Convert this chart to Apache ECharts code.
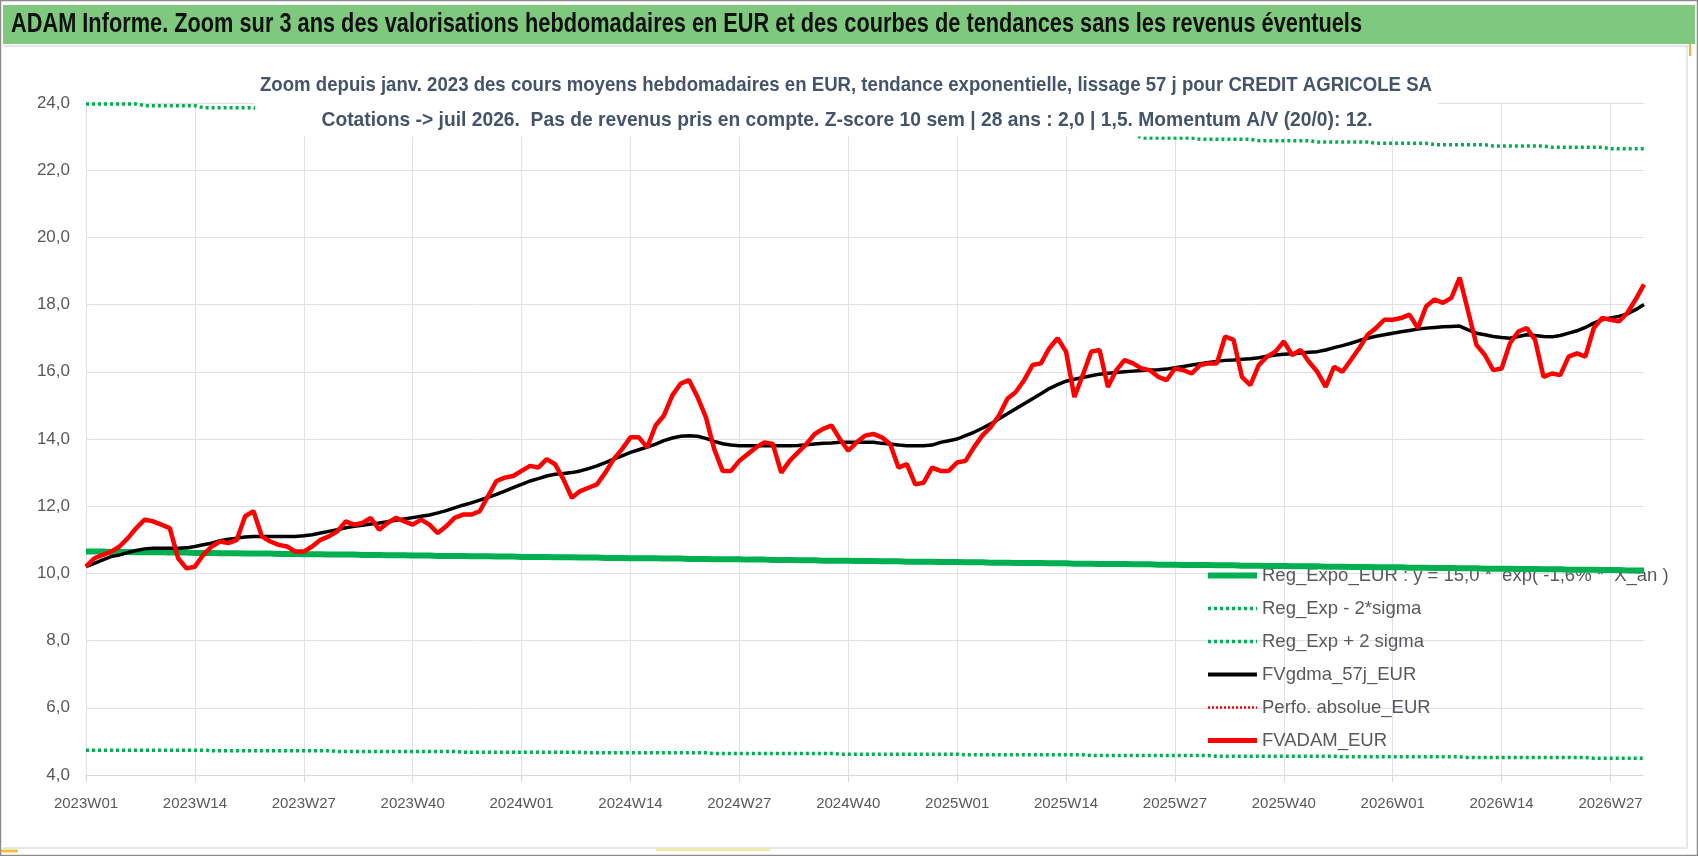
<!DOCTYPE html>
<html><head><meta charset="utf-8">
<script src="https://cdn.jsdelivr.net/npm/echarts@6/dist/echarts.min.js"></script>
<style>html,body{margin:0;padding:0;background:#fff}#c{width:1698px;height:856px}</style>
</head><body><div id="c"></div>
<script>
// ---- data ----
const weekSpec = [[2023,52],[2024,52],[2025,52],[2026,31]];
const categories = [];
weekSpec.forEach(([y,n])=>{for(let w=1;w<=n;w++)categories.push(y+'W'+(w<10?'0'+w:w));});

const regExpo = [
10.65,10.65,10.65,10.64,10.64,10.64,10.63,10.63,10.63,10.63,
10.62,10.62,10.62,10.61,10.61,10.61,10.60,10.60,10.60,10.59,
10.59,10.59,10.59,10.58,10.58,10.58,10.57,10.57,10.57,10.56,
10.56,10.56,10.56,10.55,10.55,10.55,10.54,10.54,10.54,10.53,
10.53,10.53,10.52,10.52,10.52,10.52,10.51,10.51,10.51,10.50,
10.50,10.50,10.49,10.49,10.49,10.49,10.48,10.48,10.48,10.47,
10.47,10.47,10.46,10.46,10.46,10.45,10.45,10.45,10.45,10.44,
10.44,10.44,10.43,10.43,10.43,10.42,10.42,10.42,10.42,10.41,
10.41,10.41,10.40,10.40,10.40,10.39,10.39,10.39,10.38,10.38,
10.38,10.38,10.37,10.37,10.37,10.36,10.36,10.36,10.35,10.35,
10.35,10.35,10.34,10.34,10.34,10.33,10.33,10.33,10.32,10.32,
10.32,10.31,10.31,10.31,10.31,10.30,10.30,10.30,10.29,10.29,
10.29,10.28,10.28,10.28,10.28,10.27,10.27,10.27,10.26,10.26,
10.26,10.25,10.25,10.25,10.25,10.24,10.24,10.24,10.23,10.23,
10.23,10.22,10.22,10.22,10.21,10.21,10.21,10.21,10.20,10.20,
10.20,10.19,10.19,10.19,10.18,10.18,10.18,10.18,10.17,10.17,
10.17,10.16,10.16,10.16,10.15,10.15,10.15,10.14,10.14,10.14,
10.14,10.13,10.13,10.13,10.12,10.12,10.12,10.11,10.11,10.11,
10.11,10.10,10.10,10.10,10.09,10.09,10.09];

const regMinus2Sigma = [
4.74,4.74,4.74,4.74,4.74,4.74,4.74,4.74,4.74,4.74,
4.74,4.74,4.74,4.74,4.74,4.72,4.72,4.72,4.72,4.72,
4.72,4.72,4.72,4.72,4.72,4.72,4.72,4.72,4.72,4.72,
4.70,4.70,4.70,4.70,4.70,4.70,4.70,4.70,4.70,4.70,
4.70,4.70,4.70,4.70,4.70,4.68,4.68,4.68,4.68,4.68,
4.68,4.68,4.68,4.68,4.68,4.68,4.68,4.68,4.68,4.68,
4.66,4.66,4.66,4.66,4.66,4.66,4.66,4.66,4.66,4.66,
4.66,4.66,4.66,4.66,4.66,4.64,4.64,4.64,4.64,4.64,
4.64,4.64,4.64,4.64,4.64,4.64,4.64,4.64,4.64,4.64,
4.62,4.62,4.62,4.62,4.62,4.62,4.62,4.62,4.62,4.62,
4.62,4.62,4.62,4.62,4.62,4.60,4.60,4.60,4.60,4.60,
4.60,4.60,4.60,4.60,4.60,4.60,4.60,4.60,4.60,4.60,
4.58,4.58,4.58,4.58,4.58,4.58,4.58,4.58,4.58,4.58,
4.58,4.58,4.58,4.58,4.58,4.56,4.56,4.56,4.56,4.56,
4.56,4.56,4.56,4.56,4.56,4.56,4.56,4.56,4.56,4.56,
4.54,4.54,4.54,4.54,4.54,4.54,4.54,4.54,4.54,4.54,
4.54,4.54,4.54,4.54,4.54,4.52,4.52,4.52,4.52,4.52,
4.52,4.52,4.52,4.52,4.52,4.52,4.52,4.52,4.52,4.52,
4.50,4.50,4.50,4.50,4.50,4.50,4.50];

const regPlus2Sigma = [
23.97,23.97,23.97,23.97,23.97,23.97,23.97,
23.92,23.92,23.92,23.92,23.92,23.92,23.92,
23.86,23.86,23.86,23.86,23.86,23.86,23.86,
23.80,23.80,23.80,23.80,23.80,23.80,23.80,
23.75,23.75,23.75,23.75,23.75,23.75,23.75,
23.70,23.70,23.70,23.70,23.70,23.70,23.70,
23.65,23.65,23.65,23.65,23.65,23.65,23.65,
23.60,23.60,23.60,23.60,23.60,23.60,23.60,
23.55,23.55,23.55,23.55,23.55,23.55,23.55,
23.50,23.50,23.50,23.50,23.50,23.50,23.50,
23.45,23.45,23.45,23.45,23.45,23.45,23.45,
23.40,23.40,23.40,23.40,23.40,23.40,23.40,
23.35,23.35,23.35,23.35,23.35,23.35,23.35,
23.30,23.30,23.30,23.30,23.30,23.30,23.30,
23.26,23.26,23.26,23.26,23.26,23.26,23.26,
23.22,23.22,23.22,23.22,23.22,23.22,23.22,
23.18,23.18,23.18,23.18,23.18,23.18,23.18,
23.12,23.12,23.12,23.12,23.12,23.12,23.12,
22.96,22.96,22.96,22.96,22.96,22.96,22.96,
22.92,22.92,22.92,22.92,22.92,22.92,22.92,
22.88,22.88,22.88,22.88,22.88,22.88,22.88,
22.84,22.84,22.84,22.84,22.84,22.84,22.84,
22.80,22.80,22.80,22.80,22.80,22.80,22.80,
22.76,22.76,22.76,22.76,22.76,22.76,22.76,
22.72,22.72,22.72,22.72,22.72,22.72,22.72,
22.68,22.68,22.68,22.68,22.68,22.68,22.68,
22.64,22.64,22.64,22.64,22.64];

const fvgdma57j = [
10.20,10.30,10.40,10.50,10.55,10.62,10.68,10.73,10.75,10.75,
10.75,10.75,10.76,10.80,10.85,10.90,10.97,11.02,11.05,11.08,
11.10,11.10,11.10,11.10,11.10,11.10,11.12,11.15,11.20,11.25,
11.30,11.36,11.40,11.43,11.47,11.50,11.54,11.58,11.62,11.66,
11.70,11.74,11.80,11.87,11.95,12.03,12.10,12.18,12.26,12.35,
12.45,12.55,12.65,12.75,12.82,12.90,12.95,12.97,13.00,13.05,
13.12,13.20,13.30,13.40,13.50,13.60,13.68,13.76,13.85,13.95,
14.03,14.08,14.10,14.08,14.02,13.93,13.86,13.82,13.80,13.80,
13.80,13.80,13.80,13.80,13.80,13.81,13.83,13.85,13.87,13.88,
13.90,13.90,13.90,13.90,13.90,13.87,13.85,13.82,13.80,13.80,
13.80,13.82,13.90,13.95,14.00,14.10,14.20,14.32,14.45,14.60,
14.75,14.90,15.05,15.20,15.35,15.50,15.62,15.72,15.78,15.83,
15.88,15.93,15.96,15.98,16.00,16.02,16.04,16.05,16.06,16.08,
16.12,16.16,16.20,16.24,16.28,16.31,16.34,16.35,16.37,16.39,
16.42,16.46,16.50,16.52,16.54,16.56,16.58,16.60,16.65,16.72,
16.78,16.85,16.93,17.00,17.06,17.10,17.15,17.19,17.23,17.27,
17.30,17.32,17.34,17.35,17.36,17.25,17.15,17.10,17.05,17.02,
17.00,17.05,17.10,17.08,17.05,17.04,17.08,17.15,17.22,17.32,
17.45,17.55,17.60,17.65,17.72,17.85,18.00];

const perfoAbsolue = [];

const fvadam = [
10.20,10.45,10.55,10.65,10.80,11.05,11.35,11.60,11.55,11.45,
11.35,10.45,10.15,10.20,10.55,10.80,10.95,10.90,11.00,11.70,
11.85,11.10,10.95,10.85,10.80,10.65,10.65,10.80,11.00,11.10,
11.25,11.55,11.45,11.50,11.65,11.30,11.50,11.65,11.55,11.45,
11.60,11.45,11.20,11.40,11.65,11.75,11.75,11.85,12.30,12.75,
12.85,12.90,13.05,13.20,13.15,13.40,13.25,12.80,12.25,12.45,
12.55,12.65,13.00,13.40,13.70,14.05,14.05,13.75,14.40,14.70,
15.30,15.65,15.75,15.25,14.65,13.70,13.05,13.05,13.35,13.55,
13.75,13.90,13.85,13.00,13.35,13.60,13.85,14.15,14.30,14.40,
14.00,13.65,13.90,14.10,14.15,14.05,13.85,13.15,13.25,12.65,
12.70,13.15,13.05,13.05,13.30,13.35,13.75,14.10,14.35,14.70,
15.20,15.40,15.75,16.20,16.25,16.70,17.00,16.60,15.25,15.90,
16.60,16.65,15.55,16.05,16.35,16.25,16.10,16.05,15.85,15.75,
16.10,16.05,15.95,16.20,16.25,16.25,17.05,16.95,15.85,15.60,
16.20,16.45,16.60,16.90,16.50,16.65,16.30,16.00,15.55,16.15,
16.00,16.35,16.70,17.10,17.30,17.55,17.55,17.60,17.70,17.30,
17.95,18.15,18.05,18.20,18.80,17.80,16.80,16.50,16.05,16.10,
16.85,17.20,17.30,16.95,15.85,15.95,15.90,16.45,16.55,16.45,
17.30,17.60,17.55,17.50,17.75,18.15,18.60];

const yTicks = {min:4, max:24, step:2};
const seriesNames = ['Reg_Expo_EUR : y = 15,0 *  exp( -1,6% *  X_an )','Reg_Exp - 2*sigma','Reg_Exp + 2 sigma','FVgdma_57j_EUR','Perfo. absolue_EUR','FVADAM_EUR'];
const mainTitle = 'ADAM Informe. Zoom sur 3 ans des valorisations hebdomadaires en EUR et des courbes de tendances sans les revenus éventuels';
const subTitle1 = 'Zoom depuis janv. 2023 des cours moyens hebdomadaires en EUR, tendance exponentielle, lissage 57 j pour CREDIT AGRICOLE SA';
const subTitle2 = 'Cotations -> juil 2026.  Pas de revenus pris en compte. Z-score 10 sem | 28 ans : 2,0 | 1,5. Momentum A/V (20/0): 12.';

// ---- chart ----
const FONT = "'Liberation Sans',Arial,sans-serif";
const mctx = document.createElement('canvas').getContext('2d');
function fitScale(text, font, target){ mctx.font = font; return target / mctx.measureText(text).width; }
const titleFont = "bold 27px " + FONT;
const subFont = "bold 21px " + FONT;
const sTitle = fitScale(mainTitle, titleFont, 1351);
const sSub1 = fitScale(subTitle1, subFont, 1172);
const sSub2 = fitScale(subTitle2, subFont, 1051);

const chart = echarts.init(document.getElementById('c'), null, {renderer:'canvas'});
const dotted = [3,3];
const legendWidths = [6,3.5,3.5,4,2.5,5];
chart.setOption({
  animation:false,
  backgroundColor:'#fff',
  textStyle:{fontFamily:FONT},
  grid:{left:86,right:54,top:103,bottom:81,containLabel:false},
  xAxis:{type:'category',data:categories,boundaryGap:false,
    axisLine:{lineStyle:{color:'#D9D9D9',width:1}},
    axisTick:{show:true,interval:12,length:7,lineStyle:{color:'#D9D9D9'}},
    axisLabel:{interval:12,color:'#595959',fontSize:15,fontFamily:FONT,margin:21},
    splitLine:{show:true,interval:12,lineStyle:{color:'#DDE2EA',width:1}}},
  yAxis:{type:'value',min:yTicks.min,max:yTicks.max,interval:yTicks.step,
    axisLine:{show:false},axisTick:{show:false},
    axisLabel:{color:'#595959',fontSize:17,fontFamily:FONT,margin:16,formatter:v=>v.toFixed(1).replace('.',',')},
    splitLine:{lineStyle:{color:'#DDE2EA',width:1}}},
  legend:{orient:'vertical',left:1200,top:561,z:1,itemWidth:49,itemHeight:12,itemGap:14,
    itemStyle:{opacity:0},
    textStyle:{color:'#595959',fontSize:18.5,fontFamily:FONT,padding:[0,0,0,0]},
    data:seriesNames.map((n,i)=>({name:n,lineStyle:{width:legendWidths[i]}}))},
  series:[
    {name:seriesNames[0],type:'line',data:regExpo,symbol:'none',z:2,lineStyle:{color:'#00B050',width:6},itemStyle:{color:'#00B050'}},
    {name:seriesNames[1],type:'line',data:regMinus2Sigma,symbol:'none',z:2,lineStyle:{color:'#00B050',width:3.5,type:dotted},itemStyle:{color:'#00B050'}},
    {name:seriesNames[2],type:'line',data:regPlus2Sigma,symbol:'none',z:2,lineStyle:{color:'#00B050',width:3.5,type:dotted},itemStyle:{color:'#00B050'}},
    {name:seriesNames[3],type:'line',data:fvgdma57j,symbol:'none',z:3,lineStyle:{color:'#000000',width:3.5},itemStyle:{color:'#000000'}},
    {name:seriesNames[4],type:'line',data:perfoAbsolue,symbol:'none',z:3,lineStyle:{color:'#FF0000',width:2.5,type:[2,2]},itemStyle:{color:'#FF0000'}},
    {name:seriesNames[5],type:'line',data:fvadam,symbol:'none',z:4,lineStyle:{color:'#FF0000',width:4.5},itemStyle:{color:'#FF0000'}}
  ],
  graphic:[
    {type:'rect',z:50,silent:true,shape:{x:0.5,y:0.5,width:1697,height:855},style:{fill:'none',stroke:'#8C8C8C',lineWidth:1.5}},
    {type:'rect',z:51,silent:true,shape:{x:3,y:5,width:1692,height:39},style:{fill:'#7FC97F'}},
    {type:'line',z:51,silent:true,shape:{x1:3,y1:46,x2:1690,y2:46},style:{stroke:'#E3E6EA',lineWidth:2}},
    {type:'line',z:51,silent:true,shape:{x1:1687,y1:46,x2:1687,y2:848},style:{stroke:'#D0D0D0',lineWidth:1}},
    {type:'line',z:51,silent:true,shape:{x1:3,y1:848,x2:1687,y2:848},style:{stroke:'#E3E6EA',lineWidth:2}},
    {type:'line',z:51,silent:true,shape:{x1:1,y1:851,x2:18,y2:851},style:{stroke:'#F2C12E',lineWidth:3}},
    {type:'line',z:51,silent:true,shape:{x1:656,y1:850,x2:770,y2:850},style:{stroke:'#F7E85A',lineWidth:1.5}},
    {type:'line',z:51,silent:true,shape:{x1:1690,y1:44,x2:1690,y2:56},style:{stroke:'#F2B53A',lineWidth:2}},
    {type:'text',z:52,silent:true,x:11,y:25,scaleX:sTitle,style:{text:mainTitle,fill:'#111',font:titleFont,textVerticalAlign:'middle'}},
    {type:'rect',z:60,silent:true,shape:{x:255,y:62,width:1183,height:74.5},style:{fill:'#fff'}},
    {type:'text',z:61,silent:true,x:846,y:85,scaleX:sSub1,style:{text:subTitle1,fill:'#44546A',font:subFont,textAlign:'center',textVerticalAlign:'middle'}},
    {type:'text',z:61,silent:true,x:847,y:120,scaleX:sSub2,style:{text:subTitle2,fill:'#44546A',font:subFont,textAlign:'center',textVerticalAlign:'middle'}}
  ]
});
</script></body></html>
